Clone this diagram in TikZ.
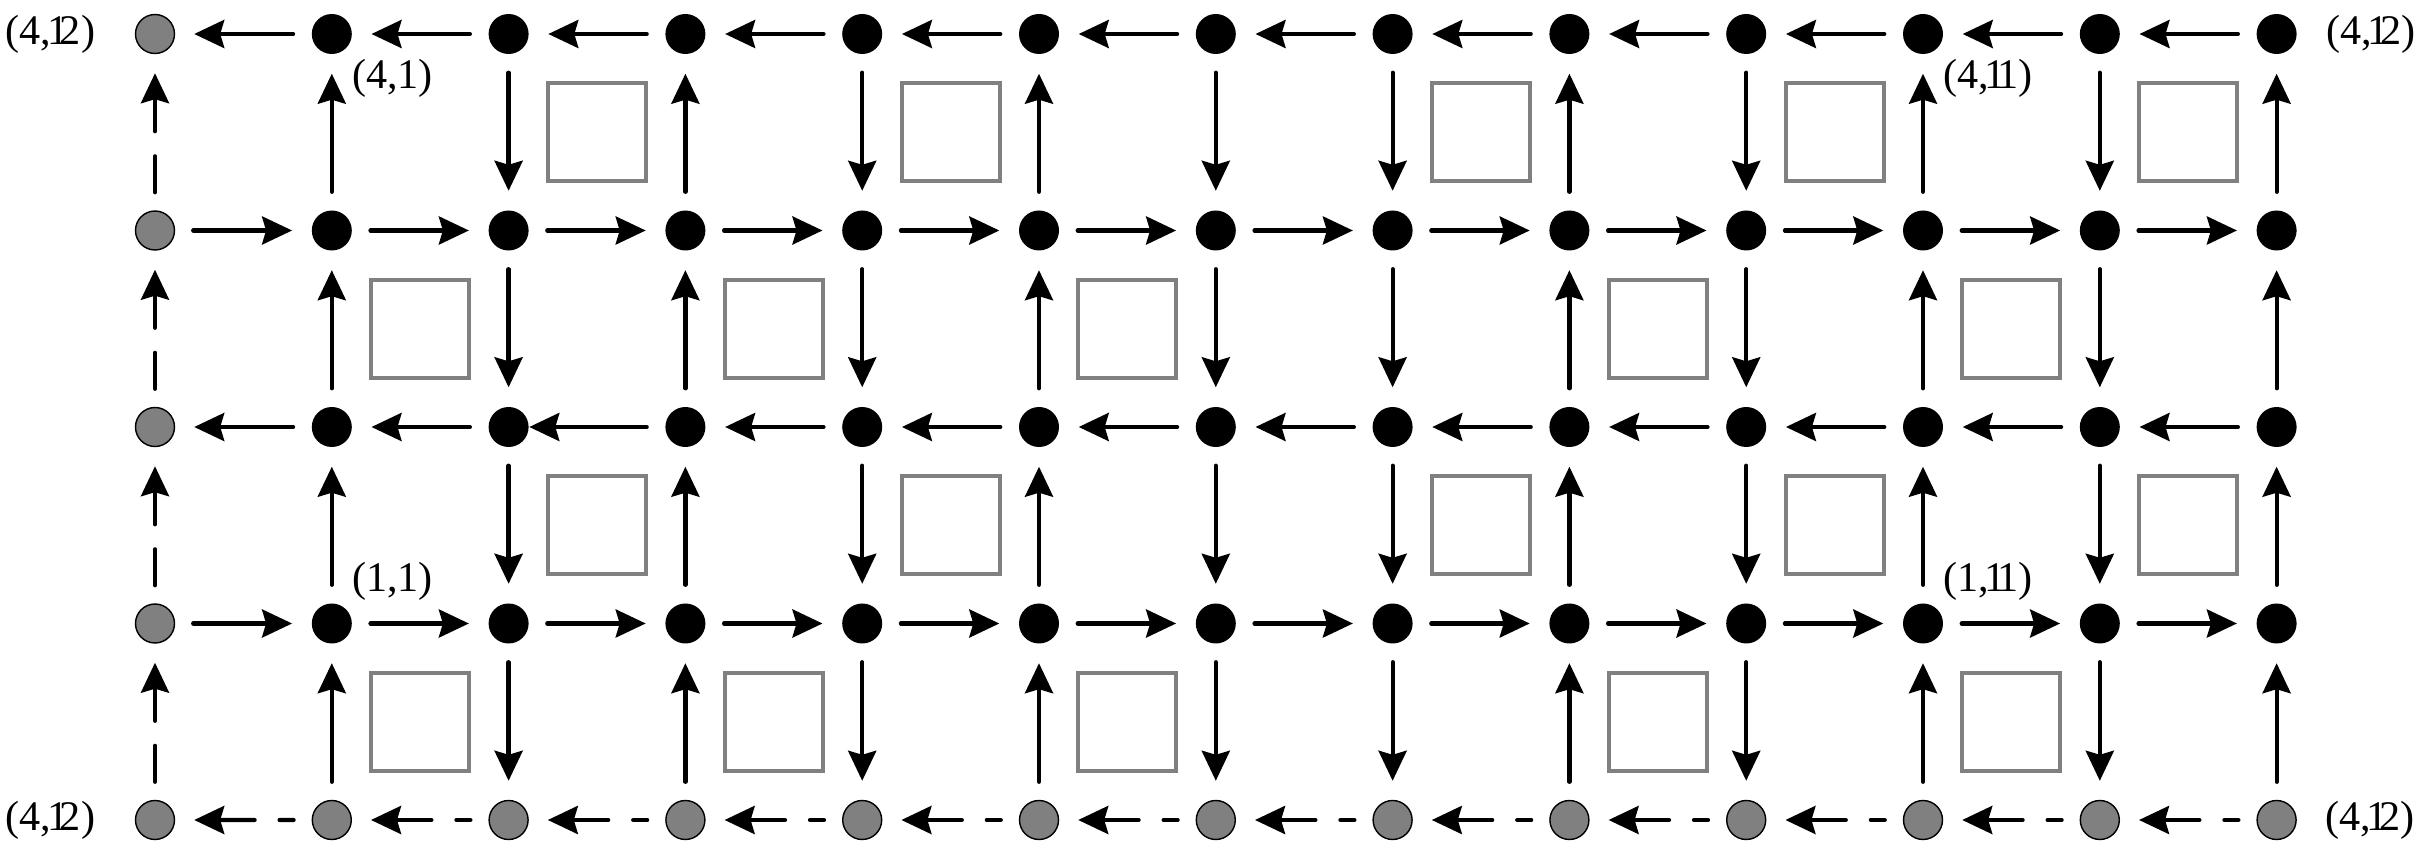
\documentclass[tikz,border=0pt]{standalone}
\usepackage{fontspec}
\setmainfont{Liberation Serif}
\usepackage{tikz}
\usetikzlibrary{positioning, arrows.meta}

\begin{document}
\begin{tikzpicture}[
        dot/.style={circle, fill=black, inner sep=0pt, minimum size=4mm},
        gdot/.style={circle, draw=black, line width=0.4pt, fill=gray, inner sep=0pt, minimum size=3.9mm},
        arr/.style={-{Stealth[length=3mm, width=2.8mm, inset=0.4mm]}, line width=1.2pt, line cap=round, shorten <=1.8mm, shorten >=1.9mm},
        darrh/.style={arr, dash pattern=on 1.4mm off 2.5mm on 3cm},
        darrv/.style={arr, dash pattern=on 3.6mm off 2.5mm on 3cm},
        box/.style={draw=gray, line width=1.1pt, inner sep=0pt, minimum size=9.8mm},
        lab/.style={inner sep=0pt, font=\fontsize{12}{14}\selectfont}
    ]
        \useasboundingbox (0,0) rectangle (24.21,8.54);

        % 格子点の描画
        \foreach \r in {0,...,3} {
            \foreach \c in {1,...,12} {
                \node[dot] (p-\r-\c) at ({1.55+1.768*\c},{8.20-1.965*\r}) {};
            }
        }
        \foreach \r in {0,...,4} {
            \node[gdot] (p-\r-0) at (1.55,{8.20-1.965*\r}) {};
        }
        \foreach \c in {1,...,12} {
            \node[gdot] (p-4-\c) at ({1.55+1.768*\c},0.34) {};
        }

        % 四角の描画
        \foreach \r in {0,2} {
            \foreach \c in {2,4,7,9,11} {
                \node[box] (q-\r-\c) at ({1.55+1.768*(\c+0.5)},{8.20-1.965*(\r+0.5)}) {};
            }
        }
        \foreach \r in {1,3} {
            \foreach \c in {1,3,5,8,10} {
                \node[box] (q-\r-\c) at ({1.55+1.768*(\c+0.5)},{8.20-1.965*(\r+0.5)}) {};
            }
        }

        % 横の矢印
        \foreach \c [evaluate=\c as \d using int(\c+1)] in {0,...,11} {
            \draw[arr] (p-0-\d) -- (p-0-\c);
            \draw[arr] (p-1-\c) -- (p-1-\d);
            \draw[arr] (p-3-\c) -- (p-3-\d);
            \draw[darrh] (p-4-\d) -- (p-4-\c);
        }
        \foreach \c [evaluate=\c as \d using int(\c+1)] in {0,1,3,4,5,6,7,8,9,10,11} {
            \draw[arr] (p-2-\d) -- (p-2-\c);
        }
        \draw[arr, shorten >=0pt] (p-2-3) -- (p-2-2);

        % 縦の矢印
        \foreach \r [evaluate=\r as \s using int(\r+1)] in {0,...,3} {
            \draw[darrv] (p-\s-0) -- (p-\r-0);
            \foreach \c in {1,3,5,8,10,12} {
                \draw[arr] (p-\s-\c) -- (p-\r-\c);
            }
            \foreach \c in {2,4,6,7,9,11} {
                \draw[arr] (p-\r-\c) -- (p-\s-\c);
            }
        }

        % ラベル
        \node[lab, left=3.9mm of p-0-0] (tl) {(4,\kern-.1em1\kern-.2em2)};
        \node[lab, left=3.9mm of p-4-0] (bl) {(4,\kern-.1em1\kern-.2em2)};
        \node[lab, right=2.8mm of p-0-12] (tr) {(4,\kern-.1em1\kern-.2em2)};
        \node[lab, right=2.8mm of p-4-12] (br) {(4,\kern-.1em1\kern-.2em2)};
        \node[lab, below right=1mm and 0.5mm of p-0-1] (a41) {(4,1)};
        \node[lab, below right=1mm and 0.5mm of p-0-10] (a411) {(4,\kern-.1em1\kern-.2em1)};
        \node[lab, above right=0.8mm and 0.5mm of p-3-1] (a11) {(1,1)};
        \node[lab, above right=0.8mm and 0.5mm of p-3-10] (a111) {(1,\kern-.1em1\kern-.2em1)};
    \end{tikzpicture}
\end{document}
